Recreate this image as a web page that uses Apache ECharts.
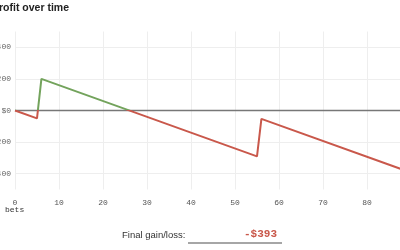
<!DOCTYPE html>
<html><head><meta charset="utf-8">
<script src="https://cdn.jsdelivr.net/npm/echarts@6/dist/echarts.min.js"></script>
<style>html,body{margin:0;padding:0;background:#fff}#c{width:400px;height:250px}</style>
</head><body><div id="c"></div>
<script>
var bets = [0, 5, 6, 55, 56, 90];
var profit = [0, -50, 200, -290, -53, -393];
var yTicks = [-400, -200, 0, 200, 400];
var xTicks = [0, 10, 20, 30, 40, 50, 60, 70, 80];
var zeroLine = [[0, 0], [100, 0]];
var titleText = 'Profit over time';
var finalLabel = 'Final gain/loss:';
var finalValue = '-$393';
var gainColor = '#73a35c';
var lossColor = '#c9584b';

var chart = echarts.init(document.getElementById('c'), null, {renderer: 'canvas'});
var data = bets.map(function (b, i) { return [b, profit[i]]; });
var mono = '"Liberation Mono", "DejaVu Sans Mono", monospace';
chart.setOption({
  animation: false,
  grid: {left: 15, right: 0, top: 31.5, bottom: 60.5, containLabel: false, outerBoundsMode: 'none'},
  xAxis: {
    type: 'value', min: 0, max: 87.5, interval: 10,
    axisLine: {show: false}, axisTick: {show: false},
    axisLabel: {color: '#555', fontFamily: mono, fontSize: 8, margin: 9,
      formatter: function (v) { return xTicks.indexOf(v) >= 0 ? String(v) : ''; }},
    splitLine: {show: true, lineStyle: {color: '#eeeeee', width: 1}}
  },
  yAxis: {
    type: 'value', min: -500, max: 500, interval: 100,
    axisLine: {show: false}, axisTick: {show: false},
    axisLabel: {color: '#666', fontFamily: mono, fontSize: 8, margin: 4,
      formatter: function (v) {
        if (yTicks.indexOf(v) < 0) return '';
        return v < 0 ? '-$' + (-v) : '$' + v;
      }},
    splitLine: {show: true, lineStyle: {color: ['transparent', '#eeeeee'], width: 1}}
  },
  series: [{
    type: 'line', data: data, showSymbol: false, symbol: 'none',
    lineStyle: {width: 2, color: lossColor}, z: 3
  }, {
    type: 'line', data: zeroLine, showSymbol: false, symbol: 'none', silent: true,
    lineStyle: {width: 1.3, color: '#777'}, itemStyle: {color: '#777'}, z: 2
  }],
  graphic: [
    {type: 'text', left: -8, top: 3, style: {text: titleText, fill: '#222',
      font: 'bold 10.5px "Liberation Sans", Arial, sans-serif'}},
    {type: 'text', left: 5, top: 206, style: {text: 'bets', fill: '#333',
      font: '8px ' + mono}},
    {type: 'text', left: 122, top: 230, style: {text: finalLabel, fill: '#333',
      font: '9.5px "Liberation Sans", Arial, sans-serif'}},
    {type: 'line', shape: {x1: 188, y1: 243, x2: 282, y2: 243},
      style: {stroke: '#888', lineWidth: 1.5}},
    {type: 'text', right: 123, top: 229, style: {text: finalValue, fill: lossColor,
      font: 'bold 11px ' + mono}}
  ]
});
// split colour at zero, using the axis' own pixel mapping
var yTop = chart.convertToPixel({yAxisIndex: 0}, 500);
var yBot = chart.convertToPixel({yAxisIndex: 0}, -500);
var yZero = chart.convertToPixel({yAxisIndex: 0}, 0);
var t = (yZero - yTop) / (yBot - yTop);
chart.setOption({series: [{
  lineStyle: {color: new echarts.graphic.LinearGradient(0, yTop, 0, yBot, [
    {offset: 0, color: gainColor}, {offset: t, color: gainColor},
    {offset: t, color: lossColor}, {offset: 1, color: lossColor}
  ], true)}
}]});
</script></body></html>
